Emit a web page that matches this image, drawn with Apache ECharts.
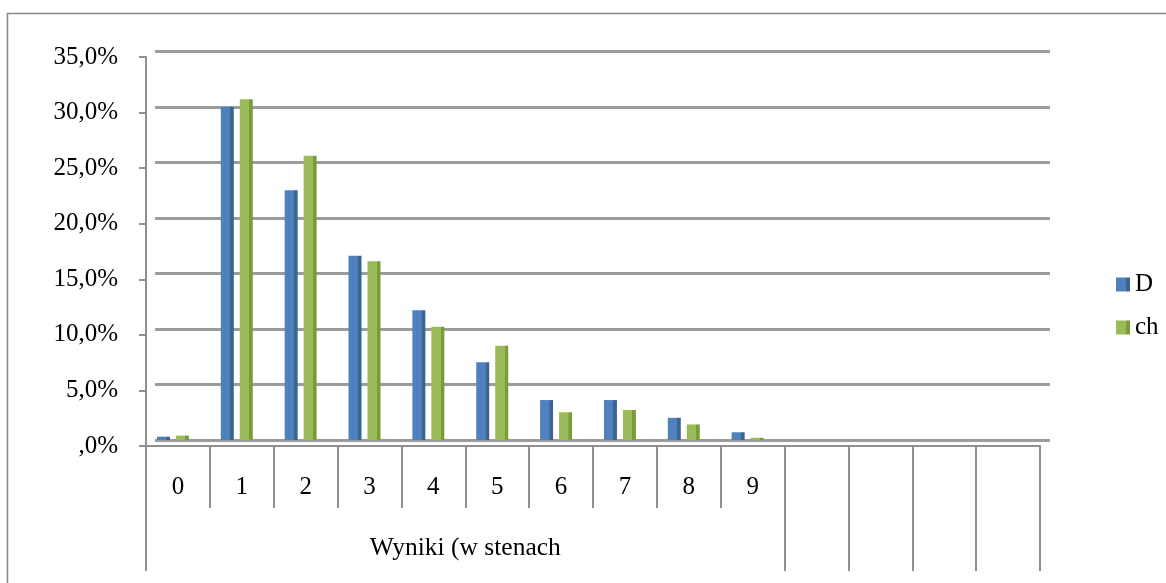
<!DOCTYPE html>
<html>
<head>
<meta charset="utf-8">
<script src="https://cdn.jsdelivr.net/npm/echarts@6/dist/echarts.min.js"></script>
<style>
html,body{margin:0;padding:0;background:#fff;}
#chart{width:1166px;height:583px;}
</style>
</head>
<body>
<div id="chart"></div>
<script>
// ---- data ----
var categories = ['0','1','2','3','4','5','6','7','8','9','','','',''];
var groupLabel = 'Wyniki (w stenach';
var seriesNames = ['D','ch'];
var valuesD  = [0.3, 30.0, 22.5, 16.6, 11.7, 7.0, 3.6, 3.6, 2.0, 0.7];
var valuesCh = [0.4, 30.7, 25.6, 16.1, 10.2, 8.5, 2.5, 2.7, 1.4, 0.2];
var yMax = 35, yStep = 5;

var FONT = "'Liberation Serif','Times New Roman',serif";
var GRID_COLOR = '#9c9c9c';
var AXIS_COLOR = '#8f8f8f';

function pctLabel(v){
  if (v === 0) return ',0%';
  return v.toFixed(1).replace('.', ',') + '%';
}
function barGrad(c1, c2){
  return new echarts.graphic.LinearGradient(0,0,1,0,[
    {offset:0,color:c1},{offset:0.72,color:c1},{offset:0.73,color:c2},{offset:1,color:c2}
  ]);
}

var chart = echarts.init(document.getElementById('chart'), null, {renderer:'canvas'});
chart.setOption({
  animation:false,
  backgroundColor:'#fff',
  textStyle:{fontFamily:FONT},
  graphic:[{
    type:'rect', silent:true, z:-10,
    shape:{x:7.5, y:13.5, width:1200, height:600},
    style:{fill:'none', stroke:'#888', lineWidth:1.5}
  }],
  legend:{
    orient:'vertical', left:1111, top:267,
    itemWidth:14, itemHeight:14, itemGap:18,
    icon:'rect',
    data:seriesNames,
    textStyle:{fontFamily:FONT, fontSize:25, color:'#000'}
  },
  grid:[
    // front plane: axes, ticks, labels
    {left:146, right:126, top:57, bottom:137},
    // back wall: gridlines
    {left:155, right:116, top:51.5, bottom:143},
    // bars
    {left:141, right:131, top:51.5, bottom:143}
  ],
  xAxis:[
    {
      gridIndex:0, type:'category', data:categories, position:'bottom',
      boundaryGap:true,
      axisLine:{show:true, lineStyle:{color:AXIS_COLOR, width:2}},
      axisTick:{show:true, length:62, alignWithLabel:false, interval:0, lineStyle:{color:AXIS_COLOR, width:2}},
      axisLabel:{show:true, interval:0, margin:29, fontSize:25, fontFamily:FONT, color:'#000'},
      splitLine:{show:false}
    },
    {
      gridIndex:0, type:'value', min:0, max:categories.length, position:'bottom', offset:0,
      axisLine:{show:false},
      axisTick:{show:true, length:125, customValues:[0,10,11,12,13,14], lineStyle:{color:AXIS_COLOR, width:2}},
      axisLabel:{show:true, customValues:[5], margin:89, fontSize:25.5, fontFamily:FONT, color:'#000',
        formatter:function(){ return groupLabel; }},
      splitLine:{show:false}
    },
    {
      gridIndex:1, type:'category', data:categories, show:false
    },
    {
      gridIndex:2, type:'category', data:categories, show:false
    }
  ],
  yAxis:[
    {
      gridIndex:0, type:'value', min:0, max:yMax, interval:yStep,
      axisLine:{show:true, lineStyle:{color:AXIS_COLOR, width:2}},
      axisTick:{show:true, length:7, lineStyle:{color:AXIS_COLOR, width:2}},
      axisLabel:{margin:28, fontSize:25, fontFamily:FONT, color:'#000', formatter:pctLabel},
      splitLine:{show:false}
    },
    {
      gridIndex:1, type:'value', min:0, max:yMax, interval:yStep,
      axisLine:{show:false}, axisTick:{show:false}, axisLabel:{show:false},
      splitLine:{show:true, lineStyle:{color:GRID_COLOR, width:3}}
    },
    {
      gridIndex:2, type:'value', min:0, max:yMax, interval:yStep, show:false,
      splitLine:{show:false}
    }
  ],
  series:[
    {
      name:seriesNames[0], type:'bar', xAxisIndex:3, yAxisIndex:2,
      data:valuesD, barWidth:13, barGap:'46%',
      itemStyle:{color:barGrad('#4f81bd','#3a6494')}
    },
    {
      name:seriesNames[1], type:'bar', xAxisIndex:3, yAxisIndex:2,
      data:valuesCh, barWidth:13, barGap:'46%',
      itemStyle:{color:barGrad('#9bbb59','#7a9a3e')}
    }
  ]
});
</script>
</body>
</html>
